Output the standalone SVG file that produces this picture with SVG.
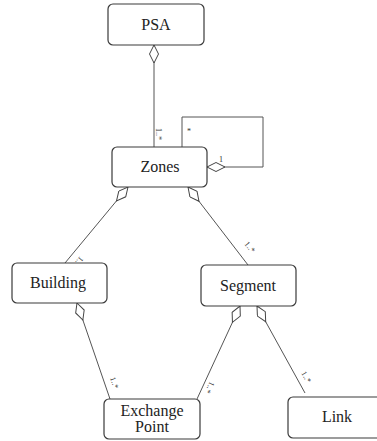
<svg xmlns="http://www.w3.org/2000/svg" width="377" height="441" viewBox="0 0 377 441">
<style>
.box{fill:#fff;stroke:#3a3a3a;stroke-width:1.2}
.name{font-family:"Liberation Serif","DejaVu Serif","Times New Roman",serif;font-size:16px;fill:#222;text-anchor:middle}
.edge{fill:none;stroke:#555;stroke-width:1}
.mult{font-family:"Liberation Serif","DejaVu Serif",serif;font-size:8px;fill:#333}
</style>
<defs>
<marker id="dia" markerUnits="userSpaceOnUse" orient="auto" refX="0" refY="5" markerWidth="20" markerHeight="10" viewBox="0 0 20 10">
<path d="M0,5 L9,0.5 L18,5 L9,9.5 Z" fill="#fff" stroke="#444" stroke-width="1"/>
</marker>
</defs>
<rect width="377" height="441" fill="#fff"/>
<g id="connectors">
<path class="edge" marker-start="url(#dia)" d="M154,45 L154,147"/>
<path class="edge" marker-start="url(#dia)" d="M207,167 L263,167 L263,117 L182,117 L182,147"/>
<path class="edge" marker-start="url(#dia)" d="M128,187 L65,263"/>
<path class="edge" marker-start="url(#dia)" d="M188,187 L248,265"/>
<path class="edge" marker-start="url(#dia)" d="M77,303 L110,399"/>
<path class="edge" marker-start="url(#dia)" d="M240,306 L197,399"/>
<path class="edge" marker-start="url(#dia)" d="M257,306 L305,393"/>
<text class="mult" transform="translate(156,128) rotate(90)">1..*</text>
<text class="mult" x="187" y="134">*</text>
<text class="mult" x="219" y="162">1</text>
<text class="mult" transform="translate(80,256) rotate(130)">1..*</text>
<text class="mult" transform="translate(244,244) rotate(52)">1..*</text>
<text class="mult" transform="translate(110,378) rotate(71)">1..*</text>
<text class="mult" transform="translate(210,381) rotate(115)">1..*</text>
<text class="mult" transform="translate(301,373) rotate(61)">1..*</text>
</g>
<g id="psa"><rect class="box" x="108" y="4" width="96" height="41" rx="5"/><text class="name" x="156" y="30">PSA</text></g>
<g id="zones"><rect class="box" x="112" y="147" width="95" height="40" rx="5"/><text class="name" x="160" y="172">Zones</text></g>
<g id="building"><rect class="box" x="12" y="263" width="95" height="40" rx="5"/><text class="name" x="58" y="288">Building</text></g>
<g id="segment"><rect class="box" x="201" y="265" width="95" height="41" rx="5"/><text class="name" x="248" y="291">Segment</text></g>
<g id="exchange"><rect class="box" x="104" y="399" width="96" height="40" rx="5"/><text class="name" x="152" y="416">Exchange</text><text class="name" x="152" y="432">Point</text></g>
<g id="link"><rect class="box" x="288" y="397" width="98" height="41" rx="5"/><text class="name" x="337" y="422">Link</text></g>
</svg>
